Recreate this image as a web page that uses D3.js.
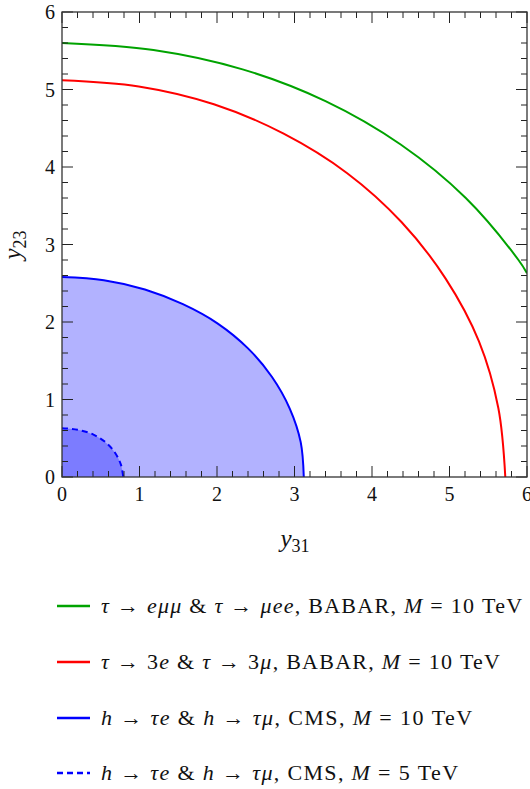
<!DOCTYPE html>
<html><head><meta charset="utf-8">
<script src="https://cdn.jsdelivr.net/npm/d3@7"></script>
<style>body{margin:0;background:#fff}svg{display:block}</style>
</head><body><div id="chart"></div>
<script>
// Points (y31, y23)
const greenCurve = [[0,5.60],[1.18,5.51],[2.33,5.26],[3.40,4.85],[4.37,4.29],[5.21,3.60],[5.89,2.80],[6.0,2.63]];
const redCurve   = [[0,5.12],[0.99,5.04],[1.96,4.81],[2.86,4.43],[3.68,3.92],[4.38,3.29],[4.95,2.56],[5.38,1.75],[5.63,0.89],[5.72,0]];
const blueCurve  = [[0,2.58],[0.54,2.54],[1.07,2.42],[1.56,2.23],[2.01,1.98],[2.40,1.66],[2.71,1.29],[2.94,0.88],[3.08,0.45],[3.12,0]];
const blueDashed = [[0,0.63],[0.20,0.61],[0.40,0.55],[0.56,0.45],[0.68,0.32],[0.76,0.16],[0.79,0]];
const xTicks = [0,1,2,3,4,5,6];
const yTicks = [0,1,2,3,4,5,6];
const legendLabels = [
  "$τ → eμμ$ & $τ → μee$, BABAR, $M = 10$ TeV",
  "$τ → 3e$ & $τ → 3μ$, BABAR, $M = 10$ TeV",
  "$h → τe$ & $h → τμ$, CMS, $M = 10$ TeV",
  "$h → τe$ & $h → τμ$, CMS, $M = 5$ TeV"
];

const W=530,H=789;
const FONT="'Liberation Serif', 'DejaVu Serif', 'Times New Roman', serif";
const svg=d3.select("#chart").append("svg").attr("width",W).attr("height",H)
  .attr("font-family",FONT).style("font-family",FONT);
const L=62,R=527,T=12,B=477;
const x=d3.scaleLinear().domain([0,6]).range([L,R]);
const y=d3.scaleLinear().domain([0,6]).range([B,T]);

svg.append("clipPath").attr("id","clip").append("rect").attr("x",L).attr("y",T).attr("width",R-L).attr("height",B-T);
const g=svg.append("g").attr("clip-path","url(#clip)");

const line=d3.line().x(d=>x(d[0])).y(d=>y(d[1])).curve(d3.curveCatmullRom);
const area=d3.area().x(d=>x(d[0])).y0(y(0)).y1(d=>y(d[1])).curve(d3.curveCatmullRom);

const blue="#0000ff", red="#ff0000", green="#00a300";
g.append("path").attr("d",area(blueCurve)).attr("fill",blue).attr("fill-opacity",0.3);
g.append("path").attr("d",area(blueDashed)).attr("fill",blue).attr("fill-opacity",0.3);
g.append("path").attr("d",line(greenCurve)).attr("fill","none").attr("stroke",green).attr("stroke-width",2);
g.append("path").attr("d",line(redCurve)).attr("fill","none").attr("stroke",red).attr("stroke-width",2);
g.append("path").attr("d",line(blueCurve)).attr("fill","none").attr("stroke",blue).attr("stroke-width",2);
g.append("path").attr("d",line(blueDashed)).attr("fill","none").attr("stroke",blue).attr("stroke-width",2).attr("stroke-dasharray","6,4");

// ticks inward on all sides
const minor=d3.range(0,6.0001,0.2).map(v=>+v.toFixed(1));
const axG=svg.append("g").attr("stroke","#222").attr("stroke-width",1);
minor.forEach(v=>{
  const major=Math.abs(v-Math.round(v))<1e-6;
  const len=major?11:6;
  axG.append("line").attr("x1",x(v)).attr("x2",x(v)).attr("y1",B).attr("y2",B-len);
  axG.append("line").attr("x1",x(v)).attr("x2",x(v)).attr("y1",T).attr("y2",T+len);
  axG.append("line").attr("y1",y(v)).attr("y2",y(v)).attr("x1",L).attr("x2",L+len);
  axG.append("line").attr("y1",y(v)).attr("y2",y(v)).attr("x1",R).attr("x2",R-len);
});
svg.append("rect").attr("x",L).attr("y",T).attr("width",R-L).attr("height",B-T).attr("fill","none").attr("stroke","#333").attr("stroke-width",1.3);

svg.append("g").selectAll("text").data(xTicks).join("text")
  .attr("x",d=>x(d)).attr("y",B+24).attr("text-anchor","middle").attr("font-size",20).attr("fill","#111").text(d=>d);
svg.append("g").selectAll("text").data(yTicks).join("text")
  .attr("x",L-7).attr("y",d=>y(d)+7).attr("text-anchor","end").attr("font-size",20).attr("fill","#111").text(d=>d);

// axis labels
const xl=svg.append("text").attr("x",295).attr("y",547).attr("text-anchor","middle").attr("fill","#111");
xl.append("tspan").attr("font-style","italic").attr("font-size",25).text("y");
xl.append("tspan").attr("font-size",18).attr("dy",5).text("31");
const yl=svg.append("text").attr("transform","translate(21,245) rotate(-90)").attr("text-anchor","middle").attr("fill","#111");
yl.append("tspan").attr("font-style","italic").attr("font-size",25).text("y");
yl.append("tspan").attr("font-size",18).attr("dy",5).text("23");

// legend
const legColors=[green,red,blue,blue], legDash=[null,null,null,"6,4"];
const rowY=[606,662,718,773];
const rowW=[421,399,371,357];
function renderLabel(t,str){
  const parts=str.split("$");
  parts.forEach((p,i)=>{
    if(i%2===0){ t.append("tspan").text(p.replace(/ /g,"\u00a0")); }
    else{
      const toks=p.split(/( |→|=)/).filter(s=>s!=="");
      toks.forEach(tok=>{
        if(tok===" ") return;
        if(tok==="→"||tok==="="){ t.append("tspan").text("\u2005"+tok+"\u2005"); return; }
        for(const ch of tok){
          const isLetter=/[A-Za-zα-ω]/.test(ch);
          t.append("tspan").attr("font-style",isLetter?"italic":"normal").text(ch);
        }
      });
    }
  });
}
legendLabels.forEach((lab,i)=>{
  svg.append("line").attr("x1",57).attr("x2",90).attr("y1",rowY[i]).attr("y2",rowY[i])
    .attr("stroke",legColors[i]).attr("stroke-width",2.5).attr("stroke-dasharray",legDash[i]);
  const t=svg.append("text").attr("x",101).attr("y",rowY[i]+7).attr("font-size",22).attr("fill","#111");
  renderLabel(t,lab);
  const nat=t.node().getComputedTextLength();
  const n=t.text().length;
  const ls=(rowW[i]-nat)/Math.max(1,n-1);
  t.attr("letter-spacing",ls);
});
</script></body></html>
